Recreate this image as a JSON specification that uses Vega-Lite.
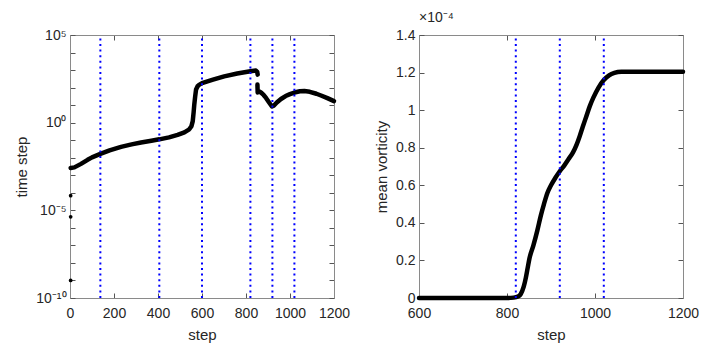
{
  "$schema": "https://vega.github.io/schema/vega-lite/v6.json",
  "background": "white",
  "padding": {"left": 14, "top": 11, "right": 5, "bottom": 3},
  "bounds": "flush",
  "datasets": {
    "dt": [
      {"step": 3, "dt": 2.63e-3, "seg": "a"},
      {"step": 20, "dt": 2.82e-3, "seg": "a"},
      {"step": 50, "dt": 4.47e-3, "seg": "a"},
      {"step": 80, "dt": 7.59e-3, "seg": "a"},
      {"step": 100, "dt": 1.05e-2, "seg": "a"},
      {"step": 138, "dt": 1.66e-2, "seg": "a"},
      {"step": 180, "dt": 2.63e-2, "seg": "a"},
      {"step": 232, "dt": 4.17e-2, "seg": "a"},
      {"step": 280, "dt": 5.75e-2, "seg": "a"},
      {"step": 323, "dt": 7.41e-2, "seg": "a"},
      {"step": 370, "dt": 9.33e-2, "seg": "a"},
      {"step": 406, "dt": 0.112, "seg": "a"},
      {"step": 450, "dt": 0.145, "seg": "a"},
      {"step": 489, "dt": 0.2, "seg": "a"},
      {"step": 520, "dt": 0.282, "seg": "a"},
      {"step": 542, "dt": 0.417, "seg": "a"},
      {"step": 552, "dt": 0.631, "seg": "a"},
      {"step": 558, "dt": 1.23, "seg": "a"},
      {"step": 562, "dt": 3.98, "seg": "a"},
      {"step": 565, "dt": 11.0, "seg": "a"},
      {"step": 569, "dt": 31.6, "seg": "a"},
      {"step": 573, "dt": 77.6, "seg": "a"},
      {"step": 580, "dt": 120, "seg": "a"},
      {"step": 588, "dt": 148, "seg": "a"},
      {"step": 600, "dt": 178, "seg": "a"},
      {"step": 650, "dt": 282, "seg": "a"},
      {"step": 701, "dt": 437, "seg": "a"},
      {"step": 760, "dt": 631, "seg": "a"},
      {"step": 820, "dt": 851, "seg": "a"},
      {"step": 845, "dt": 933, "seg": "a"},
      {"step": 851, "dt": 794, "seg": "a"},
      {"step": 853, "dt": 550, "seg": "a"},
      {"step": 852, "dt": 148, "seg": "b"},
      {"step": 853, "dt": 52.5, "seg": "b"},
      {"step": 860, "dt": 60.3, "seg": "b"},
      {"step": 868, "dt": 52.5, "seg": "b"},
      {"step": 880, "dt": 38.0, "seg": "b"},
      {"step": 891, "dt": 25.7, "seg": "b"},
      {"step": 905, "dt": 14.1, "seg": "b"},
      {"step": 918, "dt": 8.3, "seg": "b"},
      {"step": 926, "dt": 9.2, "seg": "b"},
      {"step": 940, "dt": 14.1, "seg": "b"},
      {"step": 959, "dt": 22.4, "seg": "b"},
      {"step": 980, "dt": 33.1, "seg": "b"},
      {"step": 1000, "dt": 42.7, "seg": "b"},
      {"step": 1020, "dt": 52.5, "seg": "b"},
      {"step": 1045, "dt": 61.7, "seg": "b"},
      {"step": 1065, "dt": 63.1, "seg": "b"},
      {"step": 1090, "dt": 57.5, "seg": "b"},
      {"step": 1120, "dt": 44.7, "seg": "b"},
      {"step": 1141, "dt": 35.5, "seg": "b"},
      {"step": 1170, "dt": 25.1, "seg": "b"},
      {"step": 1200, "dt": 17.0, "seg": "b"}
    ],
    "early": [
      {"step": 3, "dt": 6.8e-5},
      {"step": 3, "dt": 4.3e-6},
      {"step": 3, "dt": 1.0e-9}
    ],
    "rulesLeft": [
      {"step": 138}, {"step": 406}, {"step": 600}, {"step": 820}, {"step": 920}, {"step": 1020}
    ],
    "rulesRight": [
      {"step": 820}, {"step": 920}, {"step": 1020}
    ],
    "vort": [
      {"step": 600, "w": 0},
      {"step": 700, "w": 0},
      {"step": 800, "w": 0},
      {"step": 815, "w": 0.2e-6},
      {"step": 825, "w": 0.8e-6},
      {"step": 831, "w": 2e-6},
      {"step": 838, "w": 6e-6},
      {"step": 843, "w": 11e-6},
      {"step": 847, "w": 16e-6},
      {"step": 851, "w": 21e-6},
      {"step": 860, "w": 28e-6},
      {"step": 869, "w": 36e-6},
      {"step": 877, "w": 44e-6},
      {"step": 884, "w": 50e-6},
      {"step": 892, "w": 56e-6},
      {"step": 900, "w": 60e-6},
      {"step": 910, "w": 64e-6},
      {"step": 920, "w": 67.5e-6},
      {"step": 930, "w": 70.5e-6},
      {"step": 940, "w": 74e-6},
      {"step": 950, "w": 77.5e-6},
      {"step": 958, "w": 81.5e-6},
      {"step": 965, "w": 86e-6},
      {"step": 972, "w": 91e-6},
      {"step": 980, "w": 96.5e-6},
      {"step": 988, "w": 102e-6},
      {"step": 996, "w": 106.5e-6},
      {"step": 1008, "w": 112e-6},
      {"step": 1020, "w": 116e-6},
      {"step": 1032, "w": 118.5e-6},
      {"step": 1044, "w": 119.8e-6},
      {"step": 1060, "w": 120.4e-6},
      {"step": 1100, "w": 120.5e-6},
      {"step": 1200, "w": 120.5e-6}
    ]
  },
  "config": {
    "font": "Liberation Sans",
    "view": {"stroke": null},
    "concat": {"spacing": 85},
    "axis": {
      "domainColor": "#8a8a8a",
      "tickColor": "#555555",
      "tickSize": -5,
      "labelColor": "#262626",
      "labelFontSize": 14,
      "labelPadding": 9,
      "labelOverlap": false,
      "labelFlush": false,
      "titleColor": "#262626",
      "titleFontSize": 15,
      "titleFontWeight": "normal",
      "grid": false
    },
    "axisX": {"labelPadding": 13}
  },
  "hconcat": [
    {
      "width": 264,
      "height": 263,
      "layer": [
        {
          "data": {"name": "dt"},
          "mark": {"type": "line", "color": "black", "strokeWidth": 4.5, "strokeCap": "round", "strokeJoin": "round"},
          "encoding": {
            "x": {"field": "step", "type": "quantitative", "scale": {"domain": [0, 1200], "nice": false},
                  "axis": {"orient": "bottom", "values": [0, 200, 400, 600, 800, 1000, 1200], "format": "d", "title": "step", "titlePadding": 7}},
            "y": {"field": "dt", "type": "quantitative", "scale": {"type": "log", "domain": [1e-10, 1e5], "nice": false},
                  "axis": {"orient": "left", "title": "time step", "titlePadding": 6,
                           "values": [1e-10, 1e-9, 1e-8, 1e-7, 1e-6, 1e-5, 1e-4, 1e-3, 1e-2, 1e-1, 1, 10, 100, 1000, 1e4, 1e5],
                           "labelExpr": "round(log(datum.value)/LN10) == 5 ? '10⁵' : round(log(datum.value)/LN10) == 0 ? '10⁰' : round(log(datum.value)/LN10) == -5 ? '10⁻⁵' : round(log(datum.value)/LN10) == -10 ? '10⁻¹⁰' : ''"}},
            "detail": {"field": "seg", "type": "nominal"}
          }
        },
        {
          "data": {"name": "early"},
          "mark": {"type": "point", "filled": true, "color": "black", "size": 14, "opacity": 1},
          "encoding": {
            "x": {"field": "step", "type": "quantitative", "axis": null},
            "y": {"field": "dt", "type": "quantitative", "axis": null}
          }
        },
        {
          "data": {"name": "rulesLeft"},
          "mark": {"type": "rule", "color": "#0000ff", "strokeWidth": 2, "strokeDash": [2, 3.6]},
          "encoding": {
            "x": {"field": "step", "type": "quantitative",
                  "axis": {"orient": "top", "labels": false, "title": null, "values": [0, 200, 400, 600, 800, 1000, 1200]}},
            "y": {"datum": 1e-10, "type": "quantitative",
                  "axis": {"orient": "right", "labels": false, "title": null,
                           "values": [1e-10, 1e-9, 1e-8, 1e-7, 1e-6, 1e-5, 1e-4, 1e-3, 1e-2, 1e-1, 1, 10, 100, 1000, 1e4, 1e5]}},
            "y2": {"datum": 1e5}
          }
        }
      ],
      "resolve": {"axis": {"x": "independent", "y": "independent"}}
    },
    {
      "width": 264,
      "height": 263,
      "title": {"text": "×10⁻⁴", "anchor": "start", "frame": "group", "fontSize": 14, "fontWeight": "normal", "color": "#262626", "offset": 3},
      "layer": [
        {
          "data": {"name": "vort"},
          "mark": {"type": "line", "color": "black", "strokeWidth": 4.5, "strokeCap": "round", "strokeJoin": "round", "interpolate": "monotone"},
          "encoding": {
            "x": {"field": "step", "type": "quantitative", "scale": {"domain": [600, 1200], "nice": false},
                  "axis": {"orient": "bottom", "values": [600, 800, 1000, 1200], "format": "d", "title": "step", "titlePadding": 7}},
            "y": {"field": "w", "type": "quantitative", "scale": {"domain": [0, 1.4e-4], "nice": false},
                  "axis": {"orient": "left", "title": "mean vorticity", "titlePadding": 6,
                           "values": [0, 0.2e-4, 0.4e-4, 0.6e-4, 0.8e-4, 1.0e-4, 1.2e-4, 1.4e-4],
                           "labelExpr": "format(datum.value*1e4, '.1~f')"}}
          }
        },
        {
          "data": {"name": "rulesRight"},
          "mark": {"type": "rule", "color": "#0000ff", "strokeWidth": 2, "strokeDash": [2, 3.6]},
          "encoding": {
            "x": {"field": "step", "type": "quantitative",
                  "axis": {"orient": "top", "labels": false, "title": null, "values": [600, 800, 1000, 1200]}},
            "y": {"datum": 0, "type": "quantitative",
                  "axis": {"orient": "right", "labels": false, "title": null,
                           "values": [0, 0.2e-4, 0.4e-4, 0.6e-4, 0.8e-4, 1.0e-4, 1.2e-4, 1.4e-4]}},
            "y2": {"datum": 1.4e-4}
          }
        }
      ],
      "resolve": {"axis": {"x": "independent", "y": "independent"}}
    }
  ]
}
